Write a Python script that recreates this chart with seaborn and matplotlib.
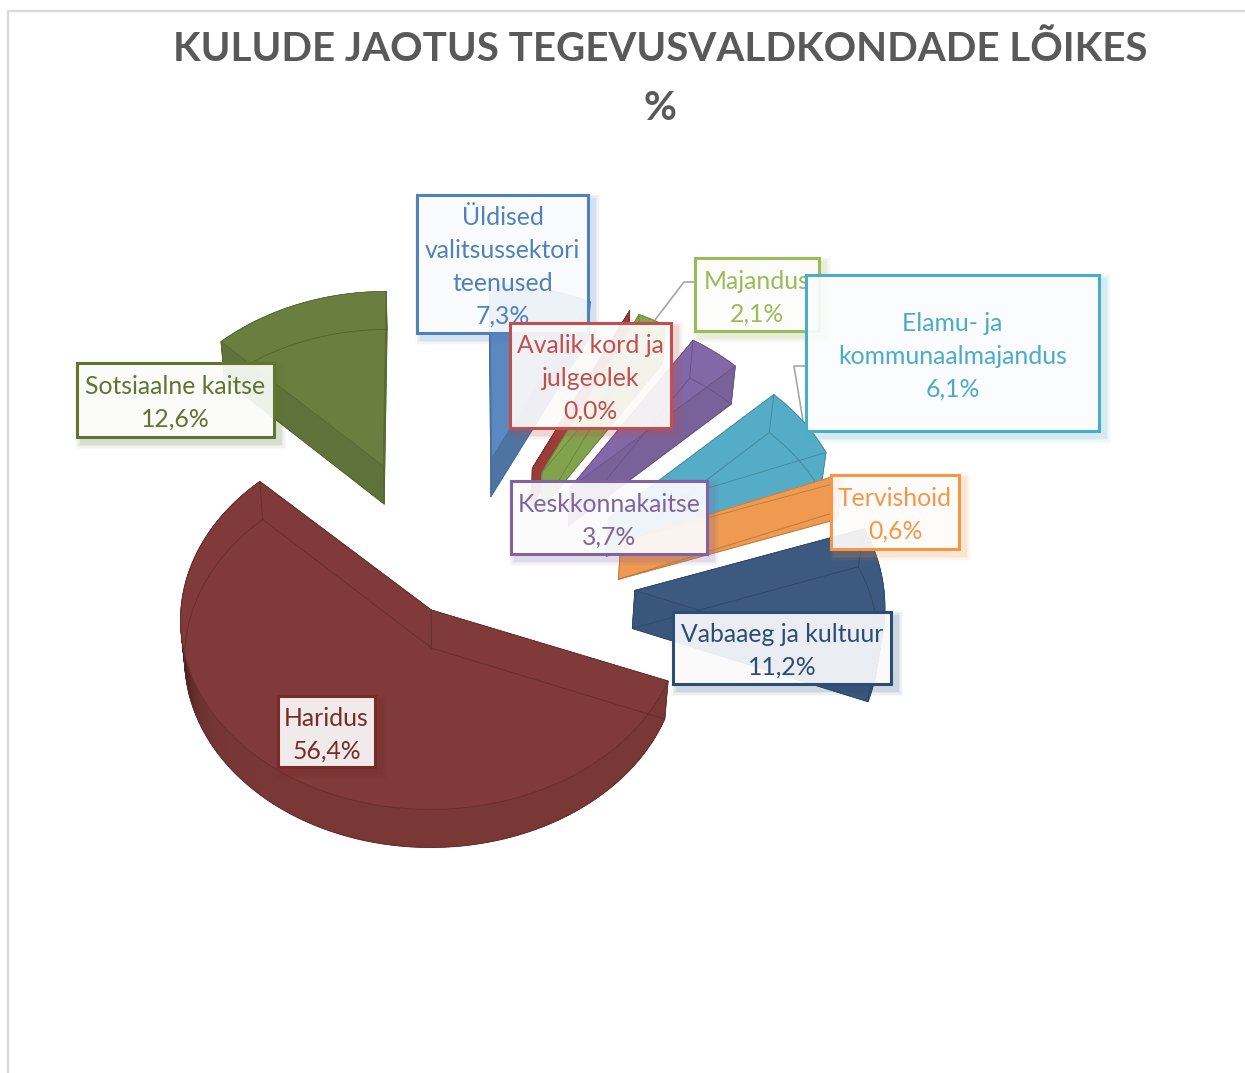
import numpy as np
import matplotlib
matplotlib.use("Agg")
import matplotlib.pyplot as plt
from matplotlib.patches import Polygon, Rectangle
import seaborn as sns

# ---- data ----
categories = ["Üldised\nvalitsussektori\nteenused", "Avalik kord ja\njulgeolek", "Majandus",
              "Keskkonnakaitse", "Elamu- ja\nkommunaalmajandus", "Tervishoid",
              "Vabaaeg ja kultuur", "Haridus", "Sotsiaalne kaitse"]
shares = [7.3, 0.0, 2.1, 3.7, 6.1, 0.6, 11.2, 56.4, 12.6]
title_text = "KULUDE JAOTUS TEGEVUSVALDKONDADE LÕIKES\n%"

# ---- styles / layout ----
slice_colors = ["#5B88BF", "#A33F3C", "#86A84F", "#8268A6", "#55ACC6", "#EE9A50", "#3C5A7F", "#7F3A39", "#6A7F3F"]
label_colors = ["#4F81BD", "#C0504D", "#9BBB59", "#8064A2", "#4BACC6", "#F79646", "#2C4D75", "#772C2A", "#5F7530"]
wall_shade = [0.85, 0.95, 0.97, 0.93, 1.0, 1.0, 0.97, 0.95, 0.9]
explode = [0.7, 0.7, 0.7, 0.7, 0.7, 0.7, 0.7, 0.14, 0.7]
nudge_x = [-8, -3, -3, 0, 4, 0, 2, -12, -15]
nudge_y = [0, 0, 0, 2, 2, 0, 0, 0, 1]
stretch_x = [1, 1, 1, 1, 1, 1, 1.02, 1.02, 1.01]
stretch_y = [1, 1, 1, 1, 1, 1, 1, 0.96, 1]
boxes = [(417, 195, 588, 333), (510, 323, 671, 428), (695, 258, 819, 331), (511, 481, 707, 554),
         (806, 275, 1099, 431), (831, 475, 959, 549), (673, 612, 891, 684), (278, 696, 375, 767),
         (77, 363, 274, 437)]
box_order = [0, 2, 4, 1, 3, 5, 6, 7, 8]
draw_order = [0, 1, 2, 3, 4, 5, 6, 8, 7]
CX, CY, RX, RY, K, DEPTH = 462, 587, 244, 195, 0.05, 38

sns.set_theme(style="white")
plt.rcParams["font.family"] = ["Lato", "DejaVu Sans"]
palette = sns.color_palette(slice_colors)
text_palette = sns.color_palette(label_colors)

fig = plt.figure(figsize=(12.45, 10.73), dpi=100)
ax = fig.add_axes([0, 0, 1, 1])
ax.set_xlim(0, 1245)
ax.set_ylim(1073, 0)
ax.axis("off")


def project(X, Y, bottom=False):
    X, Y = np.asarray(X, float), np.asarray(Y, float)
    s = 1 / (1 - K * Y)
    x = RX * X * s
    y = RY * Y * s
    if bottom:
        return np.column_stack([CX + x * 0.985, CY + y + DEPTH])
    return np.column_stack([CX + x, CY + y])


def shade(c, f):
    return tuple(np.clip(np.array(c) * f, 0, 1))


edges = np.concatenate([[0], np.cumsum(shares)]) / sum(shares) * 2 * np.pi


def draw_slice(i, z):
    a0, a1 = edges[i], edges[i + 1]
    mid = (a0 + a1) / 2
    ax0, ay0 = explode[i] * np.sin(mid), -explode[i] * np.cos(mid)
    t = np.linspace(a0, a1, max(int((a1 - a0) * 60), 2))
    rimX, rimY = ax0 + np.sin(t), ay0 - np.cos(t)
    off = np.array([nudge_x[i], nudge_y[i]])
    top_rim, bot_rim = project(rimX, rimY) + off, project(rimX, rimY, True) + off
    top_apex, bot_apex = project([ax0], [ay0]) + off, project([ax0], [ay0], True) + off
    # per-slice stretch around the apex
    st = np.array([stretch_x[i], stretch_y[i]])
    top_rim = top_apex + (top_rim - top_apex) * st
    bot_rim = bot_apex + (bot_rim - bot_apex) * st
    c = palette[i]
    w = wall_shade[i]
    line = shade(c, 0.8)
    top = np.vstack([top_apex, top_rim])
    bottom = np.vstack([bot_apex, bot_rim])
    ax.add_patch(Polygon(bottom, closed=True, fc=c, ec="none", zorder=z))
    # radial walls
    for rim_t, rim_b in ((top_rim[0], bot_rim[0]), (top_rim[-1], bot_rim[-1])):
        quad = np.vstack([top_apex, [rim_t], [rim_b], bot_apex])
        ax.add_patch(Polygon(quad, closed=True, fc=shade(c, w), ec=shade(c, w), lw=0.5, zorder=z))
    # outer wall, darkening near the far left of the rim
    for j in range(len(t) - 1):
        deg = np.degrees(t[j])
        f = w - 0.5 * np.exp(-((deg - 268) / 18) ** 2)
        quad = np.vstack([top_rim[j:j + 2], bot_rim[j:j + 2][::-1]])
        ax.add_patch(Polygon(quad, closed=True, fc=shade(c, f), ec=shade(c, f), lw=0.4, zorder=z))
    ax.add_patch(Polygon(top, closed=True, fc=c, ec=c, lw=0.4, zorder=z + 0.1))
    # see-through inner lines
    ax.plot(*np.vstack([bot_apex, bot_rim, bot_apex]).T, color=line, lw=0.7, zorder=z + 0.2)
    ax.plot(*np.vstack([top_apex, bot_apex]).T, color=line, lw=0.7, zorder=z + 0.2)
    for k in (0, -1):
        ax.plot(*np.vstack([top_rim[k], bot_rim[k]]).T, color=line, lw=0.7, zorder=z + 0.2)
    ax.plot(*np.vstack([top_apex, top_rim, top_apex]).T, color=line, lw=0.6, zorder=z + 0.2)


for n, i in enumerate(draw_order):
    draw_slice(i, 2 + n)

# leader lines
ax.plot([695, 684, 655], [282, 282, 320], color="#A6A6A6", lw=1.2, zorder=1.5)
ax.plot([806, 794, 803], [366, 366, 421], color="#A6A6A6", lw=1.2, zorder=1.5)

# data labels
for n, i in enumerate(box_order):
    x0, y0, x1, y1 = boxes[i]
    z = 20 + n
    col = text_palette[i]
    for d, al in ((7, 0.03), (5.5, 0.05), (4, 0.07), (2.5, 0.09)):
        ax.add_patch(Rectangle((x0 + 5 - d, y0 + 5 - d), x1 - x0 + 2 * d, y1 - y0 + 2 * d,
                               fc=col, ec="none", alpha=al, zorder=z))
    ax.add_patch(Rectangle((x0, y0), x1 - x0, y1 - y0, fc=(1, 1, 1, 0.9), ec=col, lw=2.2, zorder=z + 0.1))
    label = f"{categories[i]}\n{shares[i]:.1f}%".replace(".", ",")
    ax.text((x0 + x1) / 2, (y0 + y1) / 2 + 3, label, ha="center", va="center", color=col,
            fontsize=17.8, linespacing=1.52, zorder=z + 0.2, clip_on=False)

# title and frame
ax.text(660, 79, title_text, ha="center", va="center", fontsize=29, fontweight="bold",
        color="#595959", linespacing=1.72)
ax.plot([8, 8, 1245], [1073, 11, 11], color="#D9D9D9", lw=1.6, zorder=1)

fig.savefig("out.png", dpi=100)
